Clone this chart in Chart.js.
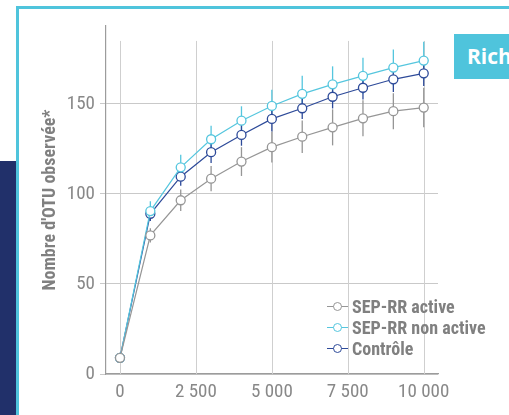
<!DOCTYPE html>
<html>
<head>
<meta charset="utf-8">
<script src="https://cdn.jsdelivr.net/npm/chart.js@4"></script>
<style>
  html,body{margin:0;padding:0;background:#fff;}
  #wrap{position:relative;width:509px;height:415px;overflow:hidden;background:#fff;}
  #cadre{position:absolute;left:16px;top:6px;width:600px;height:500px;border:3px solid #4fc4dc;box-sizing:border-box;}
  #bloc{position:absolute;left:0;top:161px;width:16px;height:254px;background:#21306a;}
  #rich{position:absolute;left:454px;top:34px;width:80px;height:45px;background:#4fc4dc;color:#fff;
        font:bold 21px "Open Sans",sans-serif;line-height:45px;padding-left:13px;box-sizing:border-box;white-space:nowrap;}
  #chart{position:absolute;left:0;top:0;}
  #legende{position:absolute;left:327px;top:296px;font:bold 18px "Roboto Condensed",sans-serif;color:#808080;}
  .rad{display:flex;align-items:center;height:21px;white-space:nowrap;}
  .sym{position:relative;width:21px;height:21px;margin-right:4px;flex:none;}
  .sym i{position:absolute;left:0;top:10px;width:21px;height:1.3px;}
  .sym b{position:absolute;left:6px;top:6px;width:7px;height:7px;border-radius:50%;background:#fff;border:1.3px solid;}
</style>
</head>
<body>
<div id="wrap">
  <div id="cadre"></div>
  <div id="bloc"></div>
  <div id="rich">Rich</div>
  <canvas id="chart" width="509" height="415"></canvas>
  <div id="legende"></div>
</div>
<script>
// données
const lectures = [0, 1000, 2000, 3000, 4000, 5000, 6000, 7000, 8000, 9000, 10000];
const sepActive    = [9, 77, 96.5, 108.5, 118, 126, 131.8, 137, 142, 146, 148];
const sepNonActive = [9, 90.5, 114.8, 130.4, 140.7, 148.9, 155.6, 160.9, 165.6, 170.2, 174.1];
const controle     = [9, 89, 109.6, 123.2, 132.8, 141.7, 147.6, 154, 159, 163.7, 167];
// barres d'erreur (+/-)
const errActive    = [0, 4, 6, 7, 8, 8.5, 9, 10, 10, 10, 11];
const errNonActive = [0, 5.5, 7, 7.5, 8, 9, 10, 10, 10, 10, 10.5];
const errControle  = [0, 4, 5, 6, 6, 7, 6, 6.5, 6.5, 7, 7];
const noms = ["SEP-RR active", "SEP-RR non active", "Contrôle"];
const yTicks = [0, 50, 100, 150];
const xTicks = [0, 2500, 5000, 7500, 10000];

const gris = "#969696", cyan = "#55c6de", marine = "#2d4a99";
const police = "'Roboto Condensed',sans-serif";

function serie(nom, valeurs, err, couleur){
  return {
    label: nom,
    data: lectures.map((x,i)=>({x:x, y:valeurs[i]})),
    err: err,
    borderColor: couleur,
    backgroundColor: "#fff",
    pointBackgroundColor: "#fff",
    pointBorderColor: couleur,
    pointRadius: 4.5,
    pointBorderWidth: 1.3,
    borderWidth: 1.2,
    tension: 0
  };
}

// barres d'erreur et grille verticale courte
const extras = {
  id: "extras",
  beforeDatasetsDraw(chart){
    const ctx = chart.ctx, xs = chart.scales.x, ys = chart.scales.y;
    ctx.save();
    ctx.strokeStyle = "#cfcfcf";
    ctx.lineWidth = 1;
    xTicks.forEach(v=>{
      const px = Math.round(xs.getPixelForValue(v)) + 0.5;
      ctx.beginPath();
      ctx.moveTo(px, ys.getPixelForValue(185));
      ctx.lineTo(px, ys.getPixelForValue(0));
      ctx.stroke();
    });
    chart.data.datasets.forEach(ds=>{
      ctx.strokeStyle = ds.borderColor;
      ctx.lineWidth = 1.3;
      ds.data.forEach((p,i)=>{
        const e = ds.err[i];
        if(!e) return;
        const px = xs.getPixelForValue(p.x);
        ctx.beginPath();
        ctx.moveTo(px, ys.getPixelForValue(p.y - e));
        ctx.lineTo(px, ys.getPixelForValue(p.y + e));
        ctx.stroke();
      });
    });
    ctx.restore();
  }
};

const chart = new Chart(document.getElementById("chart"), {
  type: "line",
  data: {
    datasets: [
      serie(noms[0], sepActive, errActive, gris),
      serie(noms[1], sepNonActive, errNonActive, cyan),
      serie(noms[2], controle, errControle, marine)
    ]
  },
  plugins: [extras],
  options: {
    responsive: false,
    animation: false,
    layout: { padding: { left: 0, top: 26, right: 71, bottom: 0 } },
    plugins: { legend: { display: false }, tooltip: { enabled: false } },
    scales: {
      x: {
        type: "linear",
        min: -460, max: 10470,
        afterBuildTicks: s => { s.ticks = xTicks.map(v=>({value:v})); },
        afterFit: s => { s.height = 41; },
        grid: { display: false, drawTicks: false },
        border: { display: true, color: "#9c9c9c", width: 1.2 },
        ticks: {
          color: "#888", padding: 7, maxRotation: 0,
          font: { family: police, size: 19 },
          callback: v => String(v).replace(/\B(?=(\d{3})+(?!\d))/g, " ")
        }
      },
      y: {
        min: 0, max: 193.3,
        afterBuildTicks: s => { s.ticks = yTicks.map(v=>({value:v})); },
        afterFit: s => { s.width = 106; },
        grid: { color: "#c9c9c9", lineWidth: 1, tickLength: 6, drawTicks: true },
        border: { display: true, color: "#9c9c9c", width: 1.2 },
        ticks: { color: "#888", padding: 5, font: { family: police, size: 19 } },
        title: {
          display: true, text: "Nombre d'OTU observée*", color: "#808080",
          padding: { top: 40, bottom: 0 },
          font: { family: police, size: 18, weight: "bold" }
        }
      }
    }
  }
});

// légende html à partir des séries
const leg = document.getElementById("legende");
chart.data.datasets.forEach(ds=>{
  const r = document.createElement("div");
  r.className = "rad";
  r.innerHTML = '<span class="sym"><i style="background:'+ds.borderColor+'"></i><b style="border-color:'+ds.borderColor+'"></b></span>'+ds.label;
  leg.appendChild(r);
});
</script>
</body>
</html>
